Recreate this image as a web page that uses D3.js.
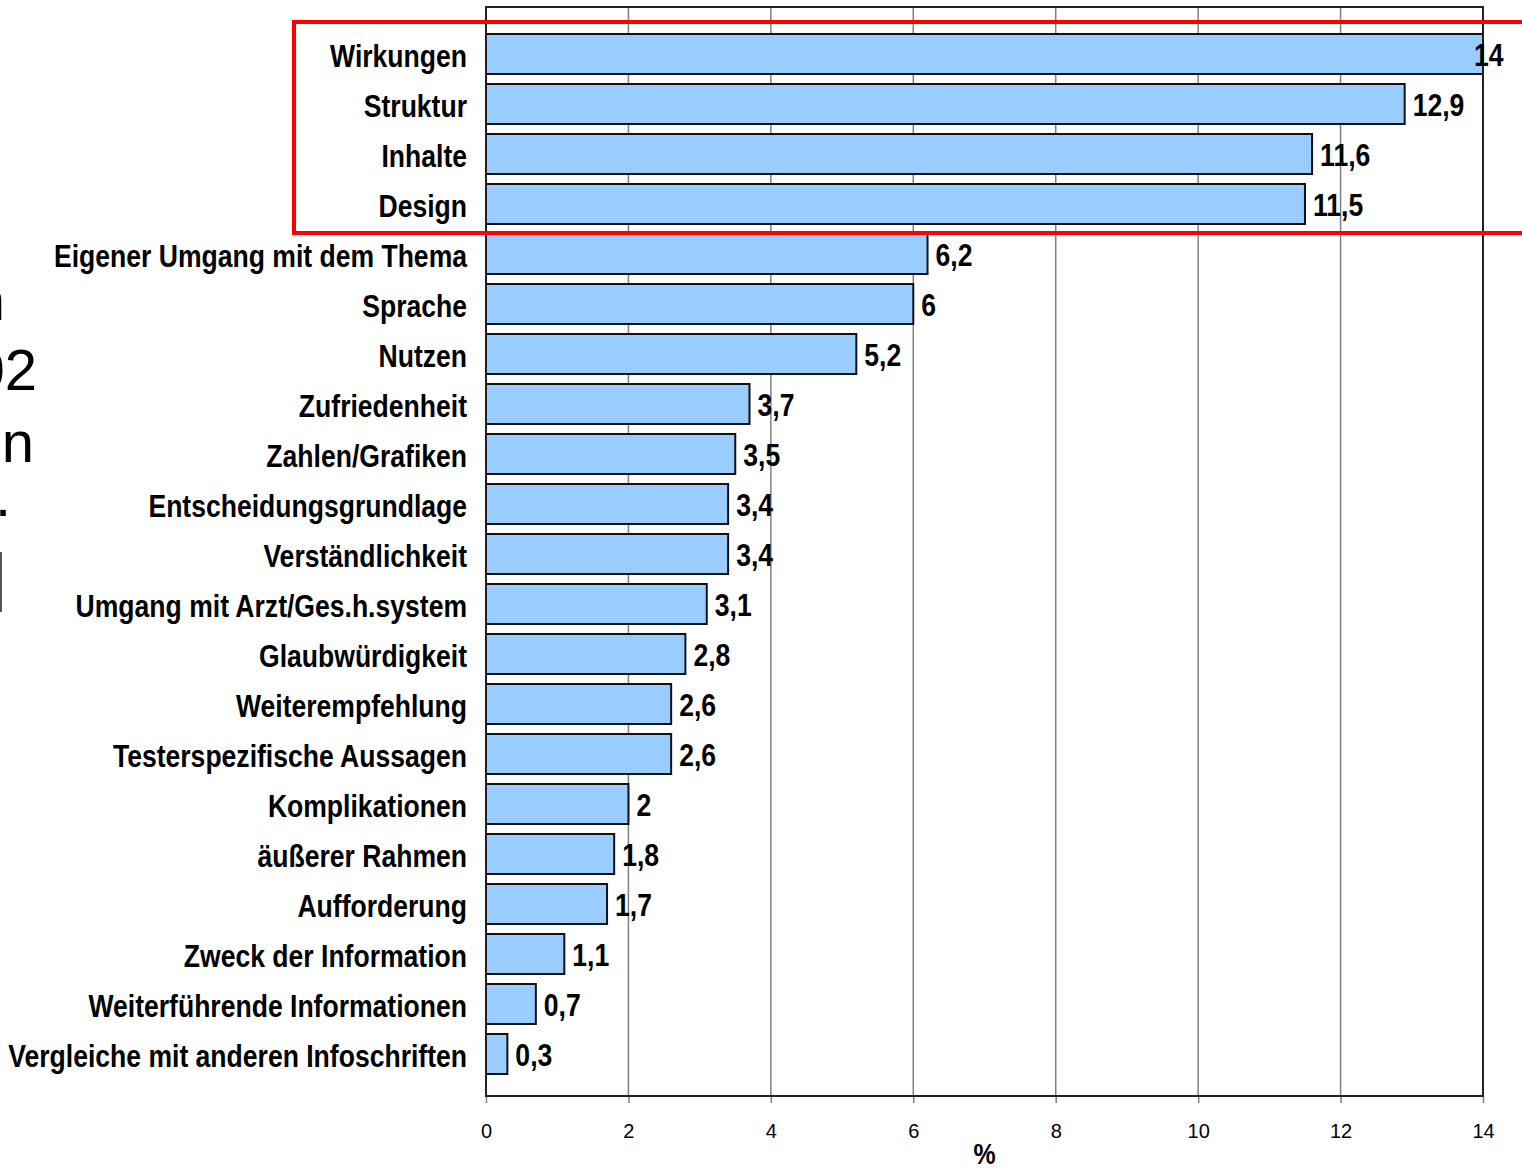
<!DOCTYPE html>
<html>
<head>
<meta charset="utf-8">
<script src="https://cdn.jsdelivr.net/npm/d3@7"></script>
<style>
  html, body { margin: 0; padding: 0; background: #fff; overflow: hidden; }
  svg { display: block; }
  .narrow { font-family: "Liberation Sans", Arial, sans-serif; font-weight: bold; }
</style>
</head>
<body>
<svg id="chart" width="1522" height="1169"></svg>
<script>
const categories = [
  "Wirkungen", "Struktur", "Inhalte", "Design", "Eigener Umgang mit dem Thema",
  "Sprache", "Nutzen", "Zufriedenheit", "Zahlen/Grafiken", "Entscheidungsgrundlage",
  "Verständlichkeit", "Umgang mit Arzt/Ges.h.system", "Glaubwürdigkeit", "Weiterempfehlung",
  "Testerspezifische Aussagen", "Komplikationen", "äußerer Rahmen", "Aufforderung",
  "Zweck der Information", "Weiterführende Informationen", "Vergleiche mit anderen Infoschriften"
];
const values = [14, 12.9, 11.6, 11.5, 6.2, 6, 5.2, 3.7, 3.5, 3.4, 3.4, 3.1, 2.8, 2.6, 2.6, 2, 1.8, 1.7, 1.1, 0.7, 0.3];
const valueLabels = ["14", "12,9", "11,6", "11,5", "6,2", "6", "5,2", "3,7", "3,5", "3,4", "3,4", "3,1", "2,8", "2,6", "2,6", "2", "1,8", "1,7", "1,1", "0,7", "0,3"];
const xTicks = [0, 2, 4, 6, 8, 10, 12, 14];
const xDomain = [0, 14];
const axisTitle = "%";
const sideFragments = ["n", "02", "n", "."];

const svg = d3.select("#chart");
const plot = { left: 486, right: 1483, top: 7, bottom: 1096 };
const NARROW = 0.83;

const x = d3.scaleLinear().domain(xDomain).range([plot.left, plot.right]);
const y = d3.scaleBand().domain(categories).range([29, 1079]).paddingInner(0.2).paddingOuter(0.1);

// gridlines
svg.append("g").selectAll("line").data(xTicks.filter(t => t > 0 && t < 14)).join("line")
  .attr("x1", d => x(d)).attr("x2", d => x(d))
  .attr("y1", plot.top).attr("y2", plot.bottom)
  .attr("stroke", "#808080").attr("stroke-width", 1.5);

// bottom axis
const axis = d3.axisBottom(x).tickValues(xTicks).tickSize(7).tickFormat(d3.format("d"));
const ax = svg.append("g").attr("transform", `translate(0,${plot.bottom})`).call(axis);
ax.select(".domain").remove();
ax.selectAll(".tick line").attr("stroke", "#808080").attr("stroke-width", 1.5);
ax.selectAll(".tick text")
  .attr("y", 0).attr("dy", 0)
  .attr("transform", "translate(0,42)")
  .attr("font-family", "Arial, 'Liberation Sans', sans-serif")
  .attr("font-size", 20).attr("fill", "#000");

// bars
svg.append("g").selectAll("rect").data(values).join("rect")
  .attr("x", x(0))
  .attr("y", (d, i) => y(categories[i]))
  .attr("width", d => x(d) - x(0))
  .attr("height", y.bandwidth())
  .attr("fill", "#99CCFF")
  .attr("stroke", "#111")
  .attr("stroke-width", 2);

// plot frame
svg.append("rect")
  .attr("x", plot.left).attr("y", plot.top)
  .attr("width", plot.right - plot.left).attr("height", plot.bottom - plot.top)
  .attr("fill", "none").attr("stroke", "#222").attr("stroke-width", 2);

// category labels
svg.append("g").selectAll("text").data(categories).join("text")
  .attr("class", "narrow")
  .attr("transform", d => `translate(467,${y(d) + y.bandwidth() / 2 + 13}) scale(${NARROW},1)`)
  .attr("text-anchor", "end")
  .attr("font-size", 32)
  .attr("fill", "#000")
  .text(d => d);

// value labels
svg.append("g").selectAll("text").data(values).join("text")
  .attr("class", "narrow")
  .attr("transform", (d, i) => `translate(${Math.min(x(d) + 8, x(xDomain[1]) - 9)},${y(categories[i]) + y.bandwidth() / 2 + 12}) scale(${NARROW},1)`)
  .attr("font-size", 32)
  .attr("fill", "#000")
  .text((d, i) => valueLabels[i]);

// axis title
svg.append("text")
  .attr("class", "narrow")
  .attr("transform", `translate(${(plot.left + plot.right) / 2},1164) scale(${NARROW},1)`)
  .attr("text-anchor", "middle")
  .attr("font-size", 30)
  .text(axisTitle);

// red highlight frame (extends beyond the right edge)
svg.append("rect")
  .attr("x", 294).attr("y", 22)
  .attr("width", 1300).attr("height", 211)
  .attr("fill", "none").attr("stroke", "#ff0000").attr("stroke-width", 4);

// clipped fragments of slide text at left edge
const fragAnchors = [[5, 320], [37, 390], [34, 462], [11, 516]];
svg.append("g").selectAll("text").data(sideFragments).join("text")
  .attr("x", (d, i) => fragAnchors[i][0])
  .attr("y", (d, i) => fragAnchors[i][1])
  .attr("text-anchor", "end")
  .attr("font-family", "Arial, 'Liberation Sans', sans-serif")
  .attr("font-size", 58)
  .attr("fill", "#000")
  .text(d => d);
svg.append("line").attr("x1", 1).attr("x2", 1).attr("y1", 552).attr("y2", 612)
  .attr("stroke", "#555").attr("stroke-width", 2);
</script>
</body>
</html>
